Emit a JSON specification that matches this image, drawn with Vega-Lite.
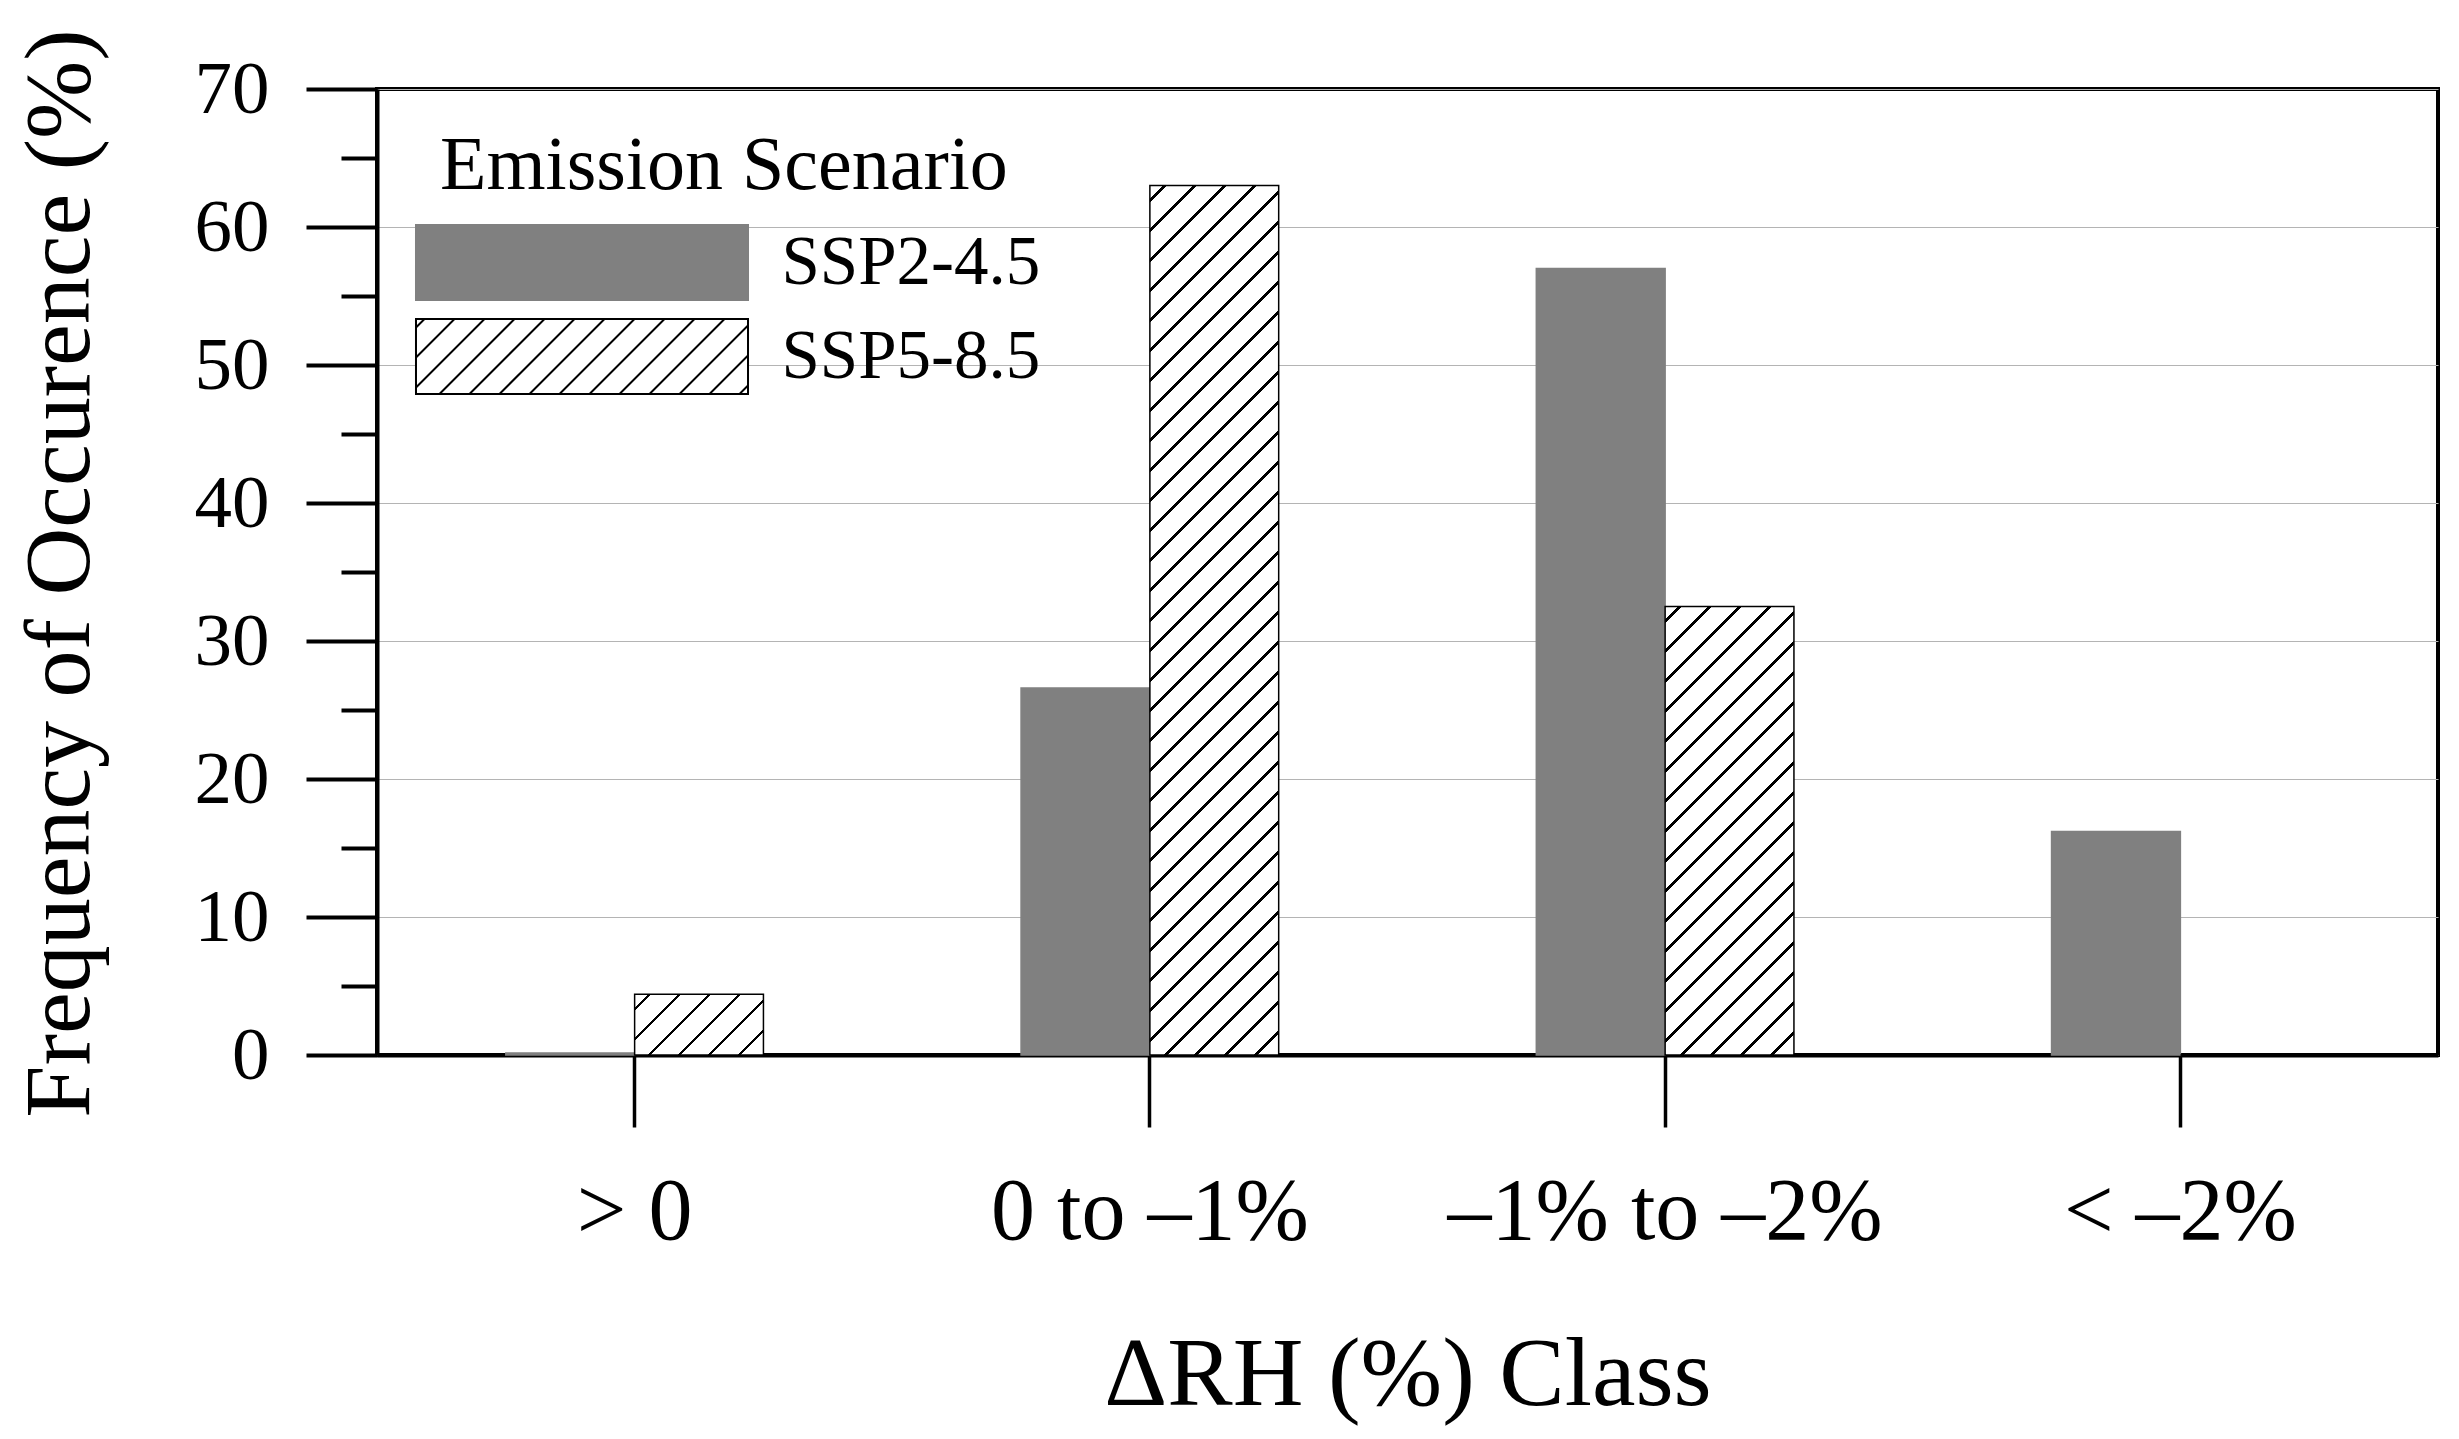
{
  "$schema": "https://vega.github.io/schema/vega-lite/v6.json",
  "width": 2061,
  "height": 966,
  "autosize": {"type": "none"},
  "padding": {"left": 377, "top": 89, "right": 21, "bottom": 384},
  "background": "white",
  "config": {
    "font": "Liberation Serif",
    "view": {"stroke": "#000", "strokeWidth": 4},
    "axis": {
      "domainColor": "#000", "domainWidth": 4, "tickColor": "#000",
      "labelColor": "#000", "titleColor": "#000", "titleFontWeight": "normal",
      "labelFont": "Liberation Serif", "titleFont": "Liberation Serif",
      "labelLimit": 0, "labelOverlap": false
    }
  },
  "data": {
    "values": [
      {"cls": "> 0", "scenario": "SSP2-4.5", "freq": 0.15},
      {"cls": "> 0", "scenario": "SSP5-8.5", "freq": 4.4},
      {"cls": "0 to –1%", "scenario": "SSP2-4.5", "freq": 26.6},
      {"cls": "0 to –1%", "scenario": "SSP5-8.5", "freq": 63.0},
      {"cls": "–1% to –2%", "scenario": "SSP2-4.5", "freq": 57.0},
      {"cls": "–1% to –2%", "scenario": "SSP5-8.5", "freq": 32.5},
      {"cls": "< –2%", "scenario": "SSP2-4.5", "freq": 16.2},
      {"cls": "< –2%", "scenario": "SSP5-8.5", "freq": 0}
    ]
  },
  "mark": {"type": "bar", "strokeWidth": 1.5},
  "encoding": {
    "x": {
      "field": "cls", "type": "nominal",
      "scale": {"domain": ["> 0", "0 to –1%", "–1% to –2%", "< –2%"], "paddingInner": 0.5, "paddingOuter": 0.25},
      "axis": {
        "title": "ΔRH (%) Class", "titleFontSize": 98, "titleBaseline": "alphabetic",
        "titleY": 349, "titleX": 1030.5,
        "labelFontSize": 88, "labelBaseline": "alphabetic", "labelPadding": 111,
        "labelAngle": 0, "tickSize": 72, "tickWidth": 3.5, "grid": false
      }
    },
    "xOffset": {"field": "scenario", "type": "nominal", "scale": {"domain": ["SSP2-4.5", "SSP5-8.5"]}},
    "y": {
      "field": "freq", "type": "quantitative",
      "scale": {"domain": [0, 70], "nice": false},
      "axis": {
        "values": [0, 5, 10, 15, 20, 25, 30, 35, 40, 45, 50, 55, 60, 65, 70],
        "title": "Frequency of Occurence (%)", "titleFontSize": 94,
        "titleX": -289, "titleY": 484, "titleBaseline": "alphabetic", "titleAngle": -90,
        "labelFontSize": 75, "labelPadding": 37,
        "labelExpr": "datum.value % 10 === 0 ? datum.label : ''",
        "tickSize": {"condition": {"test": "datum.value % 10 === 0", "value": 71}, "value": 36},
        "tickWidth": 4,
        "grid": true, "gridColor": "#b4b4b4", "gridWidth": 1.2,
        "gridOpacity": {"condition": {"test": "datum.value % 10 === 0", "value": 1}, "value": 0}
      }
    },
    "stroke": {
      "field": "scenario", "type": "nominal",
      "scale": {"domain": ["SSP2-4.5", "SSP5-8.5"], "range": ["#808080", "#000000"]},
      "legend": {
        "orient": "none", "legendX": 63, "legendY": 40, "padding": 0,
        "title": "Emission Scenario", "titleFontSize": 76, "titleFont": "Liberation Serif",
        "titleFontWeight": "normal", "titleColor": "#000", "titlePadding": 19, "titleLimit": 0,
        "labelFontSize": 69, "labelFont": "Liberation Serif", "labelColor": "#000", "labelLimit": 0,
        "symbolType": "M-4.427,-1H4.427V1H-4.427Z M-4.427,-0.773L-4.2,-1 M-4.427,0.027L-3.4,-1 M-4.427,0.827L-2.6,-1 M-3.8,1L-1.8,-1 M-3,1L-1,-1 M-2.2,1L-0.2,-1 M-1.4,1L0.6,-1 M-0.6,1L1.4,-1 M0.2,1L2.2,-1 M1,1L3,-1 M1.8,1L3.8,-1 M2.6,1L4.427,-0.827 M3.4,1L4.427,-0.027 M4.2,1L4.427,0.773",
        "symbolSize": 5625, "symbolStrokeWidth": 2, "symbolOpacity": 1,
        "symbolOffset": 103.5, "labelOffset": 161, "rowPadding": 11
      }
    },
    "fill": {
      "condition": [
        {"test": "datum.cls === '> 0' && datum.scenario === 'SSP5-8.5'", "value": {"gradient": "linear", "x1": 0, "y1": 0, "x2": 1.52454, "y2": 0.71871, "stops": [
          {"offset": 0.055, "color": "#fff"}, {"offset": 0.055, "color": "#000"}, {"offset": 0.07, "color": "#000"}, {"offset": 0.07, "color": "#fff"},
          {"offset": 0.18, "color": "#fff"}, {"offset": 0.18, "color": "#000"}, {"offset": 0.195, "color": "#000"}, {"offset": 0.195, "color": "#fff"},
          {"offset": 0.305, "color": "#fff"}, {"offset": 0.305, "color": "#000"}, {"offset": 0.32, "color": "#000"}, {"offset": 0.32, "color": "#fff"},
          {"offset": 0.43, "color": "#fff"}, {"offset": 0.43, "color": "#000"}, {"offset": 0.445, "color": "#000"}, {"offset": 0.445, "color": "#fff"},
          {"offset": 0.555, "color": "#fff"}, {"offset": 0.555, "color": "#000"}, {"offset": 0.57, "color": "#000"}, {"offset": 0.57, "color": "#fff"},
          {"offset": 0.68, "color": "#fff"}, {"offset": 0.68, "color": "#000"}, {"offset": 0.695, "color": "#000"}, {"offset": 0.695, "color": "#fff"}
        ]}},
        {"test": "datum.cls === '0 to –1%' && datum.scenario === 'SSP5-8.5'", "value": {"gradient": "linear", "x1": 0, "y1": 0, "x2": 0.16674, "y2": 1.12552, "stops": [
          {"offset": 0.0132, "color": "#fff"}, {"offset": 0.0132, "color": "#000"}, {"offset": 0.0168, "color": "#000"}, {"offset": 0.0168, "color": "#fff"},
          {"offset": 0.0432, "color": "#fff"}, {"offset": 0.0432, "color": "#000"}, {"offset": 0.0468, "color": "#000"}, {"offset": 0.0468, "color": "#fff"},
          {"offset": 0.0732, "color": "#fff"}, {"offset": 0.0732, "color": "#000"}, {"offset": 0.0768, "color": "#000"}, {"offset": 0.0768, "color": "#fff"},
          {"offset": 0.1032, "color": "#fff"}, {"offset": 0.1032, "color": "#000"}, {"offset": 0.1068, "color": "#000"}, {"offset": 0.1068, "color": "#fff"},
          {"offset": 0.1332, "color": "#fff"}, {"offset": 0.1332, "color": "#000"}, {"offset": 0.1368, "color": "#000"}, {"offset": 0.1368, "color": "#fff"},
          {"offset": 0.1632, "color": "#fff"}, {"offset": 0.1632, "color": "#000"}, {"offset": 0.1668, "color": "#000"}, {"offset": 0.1668, "color": "#fff"},
          {"offset": 0.1932, "color": "#fff"}, {"offset": 0.1932, "color": "#000"}, {"offset": 0.1968, "color": "#000"}, {"offset": 0.1968, "color": "#fff"},
          {"offset": 0.2232, "color": "#fff"}, {"offset": 0.2232, "color": "#000"}, {"offset": 0.2268, "color": "#000"}, {"offset": 0.2268, "color": "#fff"},
          {"offset": 0.2532, "color": "#fff"}, {"offset": 0.2532, "color": "#000"}, {"offset": 0.2568, "color": "#000"}, {"offset": 0.2568, "color": "#fff"},
          {"offset": 0.2832, "color": "#fff"}, {"offset": 0.2832, "color": "#000"}, {"offset": 0.2868, "color": "#000"}, {"offset": 0.2868, "color": "#fff"},
          {"offset": 0.3132, "color": "#fff"}, {"offset": 0.3132, "color": "#000"}, {"offset": 0.3168, "color": "#000"}, {"offset": 0.3168, "color": "#fff"},
          {"offset": 0.3432, "color": "#fff"}, {"offset": 0.3432, "color": "#000"}, {"offset": 0.3468, "color": "#000"}, {"offset": 0.3468, "color": "#fff"},
          {"offset": 0.3732, "color": "#fff"}, {"offset": 0.3732, "color": "#000"}, {"offset": 0.3768, "color": "#000"}, {"offset": 0.3768, "color": "#fff"},
          {"offset": 0.4032, "color": "#fff"}, {"offset": 0.4032, "color": "#000"}, {"offset": 0.4068, "color": "#000"}, {"offset": 0.4068, "color": "#fff"},
          {"offset": 0.4332, "color": "#fff"}, {"offset": 0.4332, "color": "#000"}, {"offset": 0.4368, "color": "#000"}, {"offset": 0.4368, "color": "#fff"},
          {"offset": 0.4632, "color": "#fff"}, {"offset": 0.4632, "color": "#000"}, {"offset": 0.4668, "color": "#000"}, {"offset": 0.4668, "color": "#fff"},
          {"offset": 0.4932, "color": "#fff"}, {"offset": 0.4932, "color": "#000"}, {"offset": 0.4968, "color": "#000"}, {"offset": 0.4968, "color": "#fff"},
          {"offset": 0.5232, "color": "#fff"}, {"offset": 0.5232, "color": "#000"}, {"offset": 0.5268, "color": "#000"}, {"offset": 0.5268, "color": "#fff"},
          {"offset": 0.5532, "color": "#fff"}, {"offset": 0.5532, "color": "#000"}, {"offset": 0.5568, "color": "#000"}, {"offset": 0.5568, "color": "#fff"},
          {"offset": 0.5832, "color": "#fff"}, {"offset": 0.5832, "color": "#000"}, {"offset": 0.5868, "color": "#000"}, {"offset": 0.5868, "color": "#fff"},
          {"offset": 0.6132, "color": "#fff"}, {"offset": 0.6132, "color": "#000"}, {"offset": 0.6168, "color": "#000"}, {"offset": 0.6168, "color": "#fff"},
          {"offset": 0.6432, "color": "#fff"}, {"offset": 0.6432, "color": "#000"}, {"offset": 0.6468, "color": "#000"}, {"offset": 0.6468, "color": "#fff"},
          {"offset": 0.6732, "color": "#fff"}, {"offset": 0.6732, "color": "#000"}, {"offset": 0.6768, "color": "#000"}, {"offset": 0.6768, "color": "#fff"},
          {"offset": 0.7032, "color": "#fff"}, {"offset": 0.7032, "color": "#000"}, {"offset": 0.7068, "color": "#000"}, {"offset": 0.7068, "color": "#fff"},
          {"offset": 0.7332, "color": "#fff"}, {"offset": 0.7332, "color": "#000"}, {"offset": 0.7368, "color": "#000"}, {"offset": 0.7368, "color": "#fff"},
          {"offset": 0.7632, "color": "#fff"}, {"offset": 0.7632, "color": "#000"}, {"offset": 0.7668, "color": "#000"}, {"offset": 0.7668, "color": "#fff"},
          {"offset": 0.7932, "color": "#fff"}, {"offset": 0.7932, "color": "#000"}, {"offset": 0.7968, "color": "#000"}, {"offset": 0.7968, "color": "#fff"},
          {"offset": 0.8232, "color": "#fff"}, {"offset": 0.8232, "color": "#000"}, {"offset": 0.8268, "color": "#000"}, {"offset": 0.8268, "color": "#fff"},
          {"offset": 0.8532, "color": "#fff"}, {"offset": 0.8532, "color": "#000"}, {"offset": 0.8568, "color": "#000"}, {"offset": 0.8568, "color": "#fff"},
          {"offset": 0.8832, "color": "#fff"}, {"offset": 0.8832, "color": "#000"}, {"offset": 0.8868, "color": "#000"}, {"offset": 0.8868, "color": "#fff"},
          {"offset": 0.9132, "color": "#fff"}, {"offset": 0.9132, "color": "#000"}, {"offset": 0.9168, "color": "#000"}, {"offset": 0.9168, "color": "#fff"},
          {"offset": 0.9432, "color": "#fff"}, {"offset": 0.9432, "color": "#000"}, {"offset": 0.9468, "color": "#000"}, {"offset": 0.9468, "color": "#fff"},
          {"offset": 0.9732, "color": "#fff"}, {"offset": 0.9732, "color": "#000"}, {"offset": 0.9768, "color": "#000"}, {"offset": 0.9768, "color": "#fff"}
        ]}},
        {"test": "datum.cls === '–1% to –2%' && datum.scenario === 'SSP5-8.5'", "value": {"gradient": "linear", "x1": 0, "y1": 0, "x2": 0.35492, "y2": 1.23587, "stops": [
          {"offset": 0.022, "color": "#fff"}, {"offset": 0.022, "color": "#000"}, {"offset": 0.028, "color": "#000"}, {"offset": 0.028, "color": "#fff"},
          {"offset": 0.072, "color": "#fff"}, {"offset": 0.072, "color": "#000"}, {"offset": 0.078, "color": "#000"}, {"offset": 0.078, "color": "#fff"},
          {"offset": 0.122, "color": "#fff"}, {"offset": 0.122, "color": "#000"}, {"offset": 0.128, "color": "#000"}, {"offset": 0.128, "color": "#fff"},
          {"offset": 0.172, "color": "#fff"}, {"offset": 0.172, "color": "#000"}, {"offset": 0.178, "color": "#000"}, {"offset": 0.178, "color": "#fff"},
          {"offset": 0.222, "color": "#fff"}, {"offset": 0.222, "color": "#000"}, {"offset": 0.228, "color": "#000"}, {"offset": 0.228, "color": "#fff"},
          {"offset": 0.272, "color": "#fff"}, {"offset": 0.272, "color": "#000"}, {"offset": 0.278, "color": "#000"}, {"offset": 0.278, "color": "#fff"},
          {"offset": 0.322, "color": "#fff"}, {"offset": 0.322, "color": "#000"}, {"offset": 0.328, "color": "#000"}, {"offset": 0.328, "color": "#fff"},
          {"offset": 0.372, "color": "#fff"}, {"offset": 0.372, "color": "#000"}, {"offset": 0.378, "color": "#000"}, {"offset": 0.378, "color": "#fff"},
          {"offset": 0.422, "color": "#fff"}, {"offset": 0.422, "color": "#000"}, {"offset": 0.428, "color": "#000"}, {"offset": 0.428, "color": "#fff"},
          {"offset": 0.472, "color": "#fff"}, {"offset": 0.472, "color": "#000"}, {"offset": 0.478, "color": "#000"}, {"offset": 0.478, "color": "#fff"},
          {"offset": 0.522, "color": "#fff"}, {"offset": 0.522, "color": "#000"}, {"offset": 0.528, "color": "#000"}, {"offset": 0.528, "color": "#fff"},
          {"offset": 0.572, "color": "#fff"}, {"offset": 0.572, "color": "#000"}, {"offset": 0.578, "color": "#000"}, {"offset": 0.578, "color": "#fff"},
          {"offset": 0.622, "color": "#fff"}, {"offset": 0.622, "color": "#000"}, {"offset": 0.628, "color": "#000"}, {"offset": 0.628, "color": "#fff"},
          {"offset": 0.672, "color": "#fff"}, {"offset": 0.672, "color": "#000"}, {"offset": 0.678, "color": "#000"}, {"offset": 0.678, "color": "#fff"},
          {"offset": 0.722, "color": "#fff"}, {"offset": 0.722, "color": "#000"}, {"offset": 0.728, "color": "#000"}, {"offset": 0.728, "color": "#fff"},
          {"offset": 0.772, "color": "#fff"}, {"offset": 0.772, "color": "#000"}, {"offset": 0.778, "color": "#000"}, {"offset": 0.778, "color": "#fff"},
          {"offset": 0.822, "color": "#fff"}, {"offset": 0.822, "color": "#000"}, {"offset": 0.828, "color": "#000"}, {"offset": 0.828, "color": "#fff"},
          {"offset": 0.872, "color": "#fff"}, {"offset": 0.872, "color": "#000"}, {"offset": 0.878, "color": "#000"}, {"offset": 0.878, "color": "#fff"},
          {"offset": 0.922, "color": "#fff"}, {"offset": 0.922, "color": "#000"}, {"offset": 0.928, "color": "#000"}, {"offset": 0.928, "color": "#fff"},
          {"offset": 0.972, "color": "#fff"}, {"offset": 0.972, "color": "#000"}, {"offset": 0.978, "color": "#000"}, {"offset": 0.978, "color": "#fff"}
        ]}}
      ],
      "field": "scenario", "type": "nominal",
      "scale": {"domain": ["SSP2-4.5", "SSP5-8.5"], "range": ["#808080", "#ffffff"]},
      "legend": {
        "orient": "none", "legendX": 63, "legendY": 40, "padding": 0,
        "title": "Emission Scenario", "titleFontSize": 76, "titleFont": "Liberation Serif",
        "titleFontWeight": "normal", "titleColor": "#000", "titlePadding": 19, "titleLimit": 0,
        "labelFontSize": 69, "labelFont": "Liberation Serif", "labelColor": "#000", "labelLimit": 0,
        "symbolType": "M-4.427,-1H4.427V1H-4.427Z M-4.427,-0.773L-4.2,-1 M-4.427,0.027L-3.4,-1 M-4.427,0.827L-2.6,-1 M-3.8,1L-1.8,-1 M-3,1L-1,-1 M-2.2,1L-0.2,-1 M-1.4,1L0.6,-1 M-0.6,1L1.4,-1 M0.2,1L2.2,-1 M1,1L3,-1 M1.8,1L3.8,-1 M2.6,1L4.427,-0.827 M3.4,1L4.427,-0.027 M4.2,1L4.427,0.773",
        "symbolSize": 5625, "symbolStrokeWidth": 2, "symbolOpacity": 1,
        "symbolOffset": 103.5, "labelOffset": 161, "rowPadding": 11
      }
    }
  }
}
